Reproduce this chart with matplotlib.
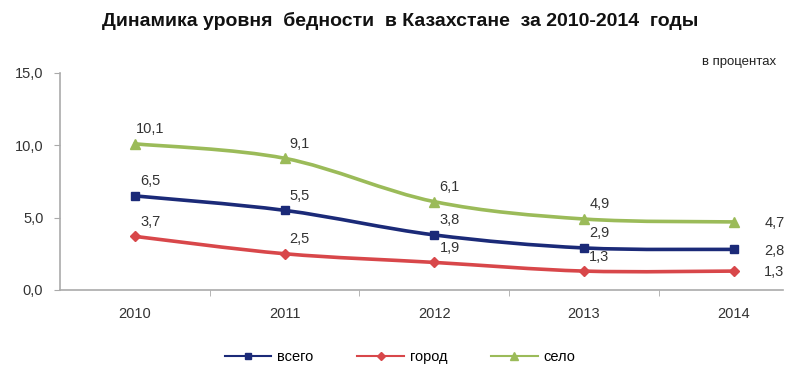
import matplotlib
matplotlib.use("Agg")
import matplotlib.pyplot as plt
import numpy as np
from matplotlib.path import Path
from matplotlib.patches import PathPatch
from matplotlib.lines import Line2D

plt.rcParams['font.family'] = ['Liberation Sans', 'DejaVu Sans']

years = ['2010', '2011', '2012', '2013', '2014']
vsego = [6.5, 5.5, 3.8, 2.9, 2.8]
gorod = [3.7, 2.5, 1.9, 1.3, 1.3]
selo = [10.1, 9.1, 6.1, 4.9, 4.7]

series = [
    ('всего', vsego, '#1b2a78', 's', 6),
    ('город', gorod, '#d8474a', 'D', 5),
    ('село', selo, '#9bbb59', '^', 7),
]


def smooth_path(x, y, t=0.5):
    # Catmull-Rom style bezier through the data points (Excel "smoothed line")
    x = np.asarray(x, float)
    y = np.asarray(y, float)
    verts = [(x[0], y[0])]
    codes = [Path.MOVETO]
    n = len(x)
    for i in range(n - 1):
        p0 = (x[i - 1], y[i - 1]) if i > 0 else (x[i], y[i])
        p1 = (x[i], y[i])
        p2 = (x[i + 1], y[i + 1])
        p3 = (x[i + 2], y[i + 2]) if i + 2 < n else (x[i + 1], y[i + 1])
        c1 = (p1[0] + (p2[0] - p0[0]) * t / 3, p1[1] + (p2[1] - p0[1]) * t / 3)
        c2 = (p2[0] - (p3[0] - p1[0]) * t / 3, p2[1] - (p3[1] - p1[1]) * t / 3)
        verts += [c1, c2, p2]
        codes += [Path.CURVE4] * 3
    return Path(verts, codes)


fig = plt.figure(figsize=(8, 3.76), dpi=100)
ax = fig.add_axes([0.075, 0.229, 0.904, 0.577])

x = np.arange(len(years))
handles = []
for name, vals, col, mk, ms in series:
    ax.add_patch(PathPatch(smooth_path(x, vals), facecolor='none',
                           edgecolor=col, lw=2.6, capstyle='round'))
    ax.plot(x, vals, ls='none', marker=mk, color=col, ms=ms)
    handles.append(Line2D([0], [0], color=col, lw=1.5, marker=mk, ms=ms - 1))
    for i, v in enumerate(vals):
        lab = f'{v:.1f}'.replace('.', ',')
        if i == len(vals) - 1:
            ax.annotate(lab, (x[i], v), xytext=(22, -1), textcoords='offset points',
                        ha='left', va='center', fontsize=10.5, color='#333333')
        else:
            ax.annotate(lab, (x[i], v), xytext=(11, 10.5), textcoords='offset points',
                        ha='center', va='center', fontsize=10.5, color='#333333')

ax.set_xlim(-0.5, 4.33)
ax.set_ylim(0, 15)
ax.set_yticks([0, 5, 10, 15])
ax.set_yticklabels([f'{v:.1f}'.replace('.', ',') for v in [0, 5, 10, 15]])
ax.set_xticks(x)
ax.set_xticklabels(years)
ax.set_xticks(np.arange(0.5, 4, 1), minor=True)
ax.tick_params(axis='x', which='major', length=0, pad=12, labelsize=10.5, labelcolor='#333333')
ax.tick_params(axis='x', which='minor', length=4, color='#aaaaaa')
ax.tick_params(axis='y', length=4, color='#aaaaaa', labelsize=10.5, labelcolor='#333333', pad=8)
for s in ['top', 'right']:
    ax.spines[s].set_visible(False)
for s in ['left', 'bottom']:
    ax.spines[s].set_color('#aaaaaa')
    ax.spines[s].set_linewidth(1.2)

fig.text(0.5, 0.945, 'Динамика уровня  бедности  в Казахстане  за 2010-2014  годы',
         ha='center', va='center', fontsize=14, fontweight='bold', color='#111111')
fig.text(0.97, 0.835, 'в процентах', ha='right', va='center', fontsize=9.5, color='#222222')

fig.legend(handles, [s[0] for s in series], loc='center', bbox_to_anchor=(0.5, 0.05),
           ncol=3, frameon=False, fontsize=10.5, handlelength=3.2, columnspacing=3,
           handletextpad=0.4)

fig.savefig('out.png', dpi=100)
